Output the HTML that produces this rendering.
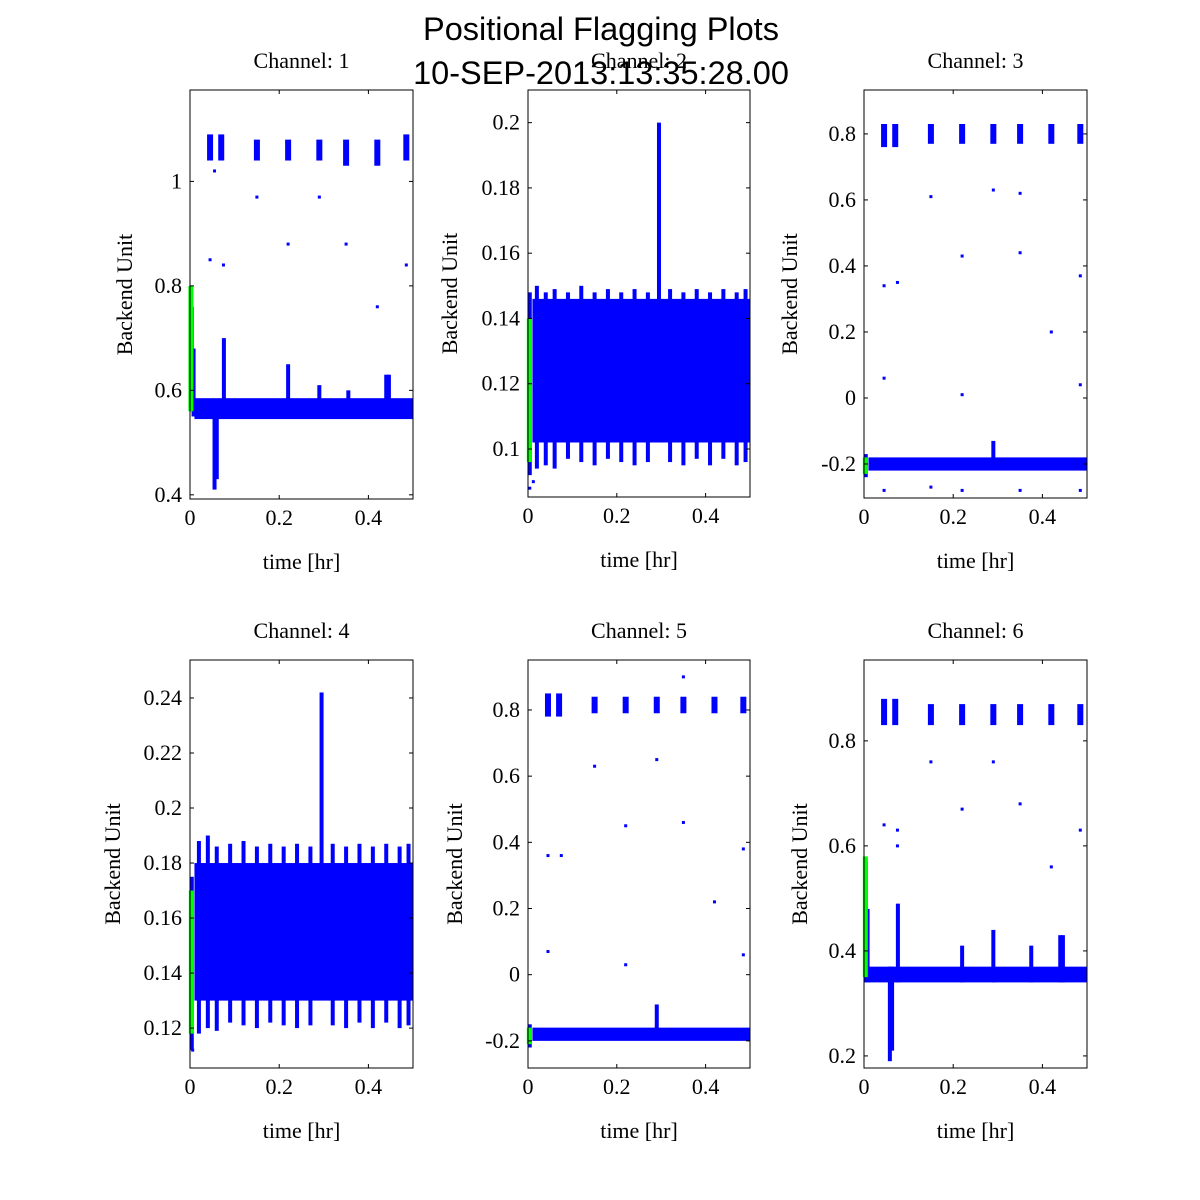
<!DOCTYPE html>
<html><head><meta charset="utf-8"><style>
html,body{margin:0;padding:0;background:#fff;}
svg{display:block;}
.tk{font-family:"Liberation Serif",serif;font-size:22px;fill:#000;}
.ttl{font-family:"Liberation Sans",sans-serif;font-size:32.5px;fill:#000;}
</style></head><body>
<svg id="chart" width="1200" height="1200" viewBox="0 0 1200 1200">
<text class="ttl" x="601" y="40" text-anchor="middle">Positional Flagging Plots</text>
<text class="ttl" x="601" y="84" text-anchor="middle">10-SEP-2013:13:35:28.00</text>
</svg>
<script>
// ---- data ----
const xTicks=[0,0.2,0.4];
const xTickLabels=["0","0.2","0.4"];
// Channel 1
const p1Band=[0.545,0.585];
const p1SpikeT=[0.004,0.008,0.055,0.06,0.076,0.22,0.29,0.355,0.44,0.446];
const p1SpikeLo=[0.56,0.55,0.41,0.43,0.55,0.55,0.55,0.55,0.55,0.55];
const p1SpikeHi=[0.76,0.68,0.58,0.58,0.70,0.65,0.61,0.60,0.63,0.63];
const p1ClusterT=[0.045,0.07,0.15,0.22,0.29,0.35,0.42,0.485];
const p1ClusterLo=[1.04,1.04,1.04,1.04,1.04,1.03,1.03,1.04];
const p1ClusterHi=[1.09,1.09,1.08,1.08,1.08,1.08,1.08,1.09];
const p1OutT=[0.045,0.075,0.15,0.22,0.29,0.35,0.42,0.485,0.055];
const p1OutV=[0.85,0.84,0.97,0.88,0.97,0.88,0.76,0.84,1.02];
const p1GreenT=[0.002];const p1GreenLo=[0.56];const p1GreenHi=[0.80];
const p1YTicks=[0.4,0.6,0.8,1];
// Channel 2
const p2Band=[0.102,0.146];
const p2SpikeT=[0.004,0.02,0.04,0.06,0.09,0.12,0.15,0.18,0.21,0.24,0.27,0.295,0.32,0.35,0.38,0.41,0.44,0.47,0.49];
const p2SpikeLo=[0.092,0.094,0.095,0.094,0.097,0.096,0.095,0.097,0.096,0.095,0.096,0.11,0.096,0.095,0.097,0.095,0.097,0.095,0.096];
const p2SpikeHi=[0.148,0.15,0.148,0.149,0.148,0.15,0.148,0.149,0.148,0.149,0.148,0.20,0.149,0.148,0.149,0.148,0.149,0.148,0.149];
const p2ClusterT=[];const p2ClusterLo=[];const p2ClusterHi=[];
const p2OutT=[0.004,0.012];const p2OutV=[0.088,0.09];
const p2GreenT=[0.003];const p2GreenLo=[0.096];const p2GreenHi=[0.14];
const p2YTicks=[0.1,0.12,0.14,0.16,0.18,0.2];
// Channel 3
const p3Band=[-0.22,-0.18];
const p3SpikeT=[0.004,0.29];
const p3SpikeLo=[-0.24,-0.2];
const p3SpikeHi=[-0.17,-0.13];
const p3ClusterT=[0.045,0.07,0.15,0.22,0.29,0.35,0.42,0.485];
const p3ClusterLo=[0.76,0.76,0.77,0.77,0.77,0.77,0.77,0.77];
const p3ClusterHi=[0.83,0.83,0.83,0.83,0.83,0.83,0.83,0.83];
const p3OutT=[0.045,0.045,0.075,0.15,0.22,0.22,0.29,0.35,0.35,0.42,0.485,0.485,0.045,0.15,0.22,0.35,0.485];
const p3OutV=[0.34,0.06,0.35,0.61,0.43,0.01,0.63,0.44,0.62,0.2,0.37,0.04,-0.28,-0.27,-0.28,-0.28,-0.28];
const p3GreenT=[0.003];const p3GreenLo=[-0.23];const p3GreenHi=[-0.18];
const p3YTicks=[-0.2,0,0.2,0.4,0.6,0.8];
// Channel 4
const p4Band=[0.13,0.18];
const p4SpikeT=[0.004,0.02,0.04,0.06,0.09,0.12,0.15,0.18,0.21,0.24,0.27,0.295,0.32,0.35,0.38,0.41,0.44,0.47,0.49];
const p4SpikeLo=[0.112,0.118,0.12,0.119,0.122,0.121,0.12,0.122,0.121,0.12,0.121,0.14,0.121,0.12,0.122,0.12,0.122,0.12,0.121];
const p4SpikeHi=[0.175,0.188,0.19,0.186,0.187,0.188,0.186,0.187,0.186,0.187,0.186,0.242,0.187,0.186,0.187,0.186,0.187,0.186,0.187];
const p4ClusterT=[];const p4ClusterLo=[];const p4ClusterHi=[];
const p4OutT=[0.006];const p4OutV=[0.112];
const p4GreenT=[0.003];const p4GreenLo=[0.118];const p4GreenHi=[0.17];
const p4YTicks=[0.12,0.14,0.16,0.18,0.2,0.22,0.24];
// Channel 5
const p5Band=[-0.2,-0.16];
const p5SpikeT=[0.004,0.29];
const p5SpikeLo=[-0.22,-0.18];
const p5SpikeHi=[-0.15,-0.09];
const p5ClusterT=[0.045,0.07,0.15,0.22,0.29,0.35,0.42,0.485];
const p5ClusterLo=[0.78,0.78,0.79,0.79,0.79,0.79,0.79,0.79];
const p5ClusterHi=[0.85,0.85,0.84,0.84,0.84,0.84,0.84,0.84];
const p5OutT=[0.045,0.045,0.075,0.15,0.22,0.22,0.29,0.35,0.35,0.42,0.485,0.485];
const p5OutV=[0.36,0.07,0.36,0.63,0.45,0.03,0.65,0.46,0.9,0.22,0.38,0.06];
const p5GreenT=[0.003];const p5GreenLo=[-0.21];const p5GreenHi=[-0.16];
const p5YTicks=[-0.2,0,0.2,0.4,0.6,0.8];
// Channel 6
const p6Band=[0.34,0.37];
const p6SpikeT=[0.004,0.008,0.058,0.063,0.076,0.22,0.29,0.375,0.44,0.446];
const p6SpikeLo=[0.34,0.34,0.19,0.21,0.34,0.34,0.34,0.34,0.34,0.34];
const p6SpikeHi=[0.57,0.48,0.37,0.37,0.49,0.41,0.44,0.41,0.43,0.43];
const p6ClusterT=[0.045,0.07,0.15,0.22,0.29,0.35,0.42,0.485];
const p6ClusterLo=[0.83,0.83,0.83,0.83,0.83,0.83,0.83,0.83];
const p6ClusterHi=[0.88,0.88,0.87,0.87,0.87,0.87,0.87,0.87];
const p6OutT=[0.045,0.075,0.15,0.22,0.29,0.35,0.42,0.485,0.075];
const p6OutV=[0.64,0.63,0.76,0.67,0.76,0.68,0.56,0.63,0.6];
const p6GreenT=[0.003];const p6GreenLo=[0.35];const p6GreenHi=[0.58];
const p6YTicks=[0.2,0.4,0.6,0.8];

const panels=[
 {n:1,x0:190,x1:413,y0:90,y1:499,ymin:0.392,ymax:1.175,lblX:125,band:p1Band,sT:p1SpikeT,sL:p1SpikeLo,sH:p1SpikeHi,cT:p1ClusterT,cL:p1ClusterLo,cH:p1ClusterHi,oT:p1OutT,oV:p1OutV,gT:p1GreenT,gL:p1GreenLo,gH:p1GreenHi,yt:p1YTicks},
 {n:2,x0:528,x1:750,y0:90,y1:497,ymin:0.0853,ymax:0.21,lblX:450,band:p2Band,sT:p2SpikeT,sL:p2SpikeLo,sH:p2SpikeHi,cT:p2ClusterT,cL:p2ClusterLo,cH:p2ClusterHi,oT:p2OutT,oV:p2OutV,gT:p2GreenT,gL:p2GreenLo,gH:p2GreenHi,yt:p2YTicks},
 {n:3,x0:864,x1:1087,y0:90,y1:498,ymin:-0.303,ymax:0.933,lblX:790,band:p3Band,sT:p3SpikeT,sL:p3SpikeLo,sH:p3SpikeHi,cT:p3ClusterT,cL:p3ClusterLo,cH:p3ClusterHi,oT:p3OutT,oV:p3OutV,gT:p3GreenT,gL:p3GreenLo,gH:p3GreenHi,yt:p3YTicks},
 {n:4,x0:190,x1:413,y0:660,y1:1068,ymin:0.1055,ymax:0.2538,lblX:113,band:p4Band,sT:p4SpikeT,sL:p4SpikeLo,sH:p4SpikeHi,cT:p4ClusterT,cL:p4ClusterLo,cH:p4ClusterHi,oT:p4OutT,oV:p4OutV,gT:p4GreenT,gL:p4GreenLo,gH:p4GreenHi,yt:p4YTicks},
 {n:5,x0:528,x1:750,y0:660,y1:1068,ymin:-0.282,ymax:0.951,lblX:455,band:p5Band,sT:p5SpikeT,sL:p5SpikeLo,sH:p5SpikeHi,cT:p5ClusterT,cL:p5ClusterLo,cH:p5ClusterHi,oT:p5OutT,oV:p5OutV,gT:p5GreenT,gL:p5GreenLo,gH:p5GreenHi,yt:p5YTicks},
 {n:6,x0:864,x1:1087,y0:660,y1:1068,ymin:0.177,ymax:0.954,lblX:800,band:p6Band,sT:p6SpikeT,sL:p6SpikeLo,sH:p6SpikeHi,cT:p6ClusterT,cL:p6ClusterLo,cH:p6ClusterHi,oT:p6OutT,oV:p6OutV,gT:p6GreenT,gL:p6GreenLo,gH:p6GreenHi,yt:p6YTicks}
];
const NS="http://www.w3.org/2000/svg";
const svg=document.getElementById('chart');
function mk(tag,attrs,parent,text){const e=document.createElementNS(NS,tag);for(const k in attrs)e.setAttribute(k,attrs[k]);if(text!==undefined)e.textContent=text;parent.appendChild(e);return e;}
function fmt(v){return (Math.round(v*1000)/1000).toString();}
panels.forEach(p=>{
 const g=mk('g',{},svg);
 
 
 const X=t=>p.x0+(t/0.5)*(p.x1-p.x0);
 const Y=v=>p.y1-(v-p.ymin)/(p.ymax-p.ymin)*(p.y1-p.y0);
 const blue="#0000ff";
 const band=mk('rect',{x:X(0.01),y:Y(p.band[1]),width:X(0.5)-X(0.01),height:Y(p.band[0])-Y(p.band[1]),fill:blue},g);
 
 
 p.sT.forEach((t,i)=>{
  const r=mk('rect',{x:X(t)-2,y:Y(p.sH[i]),width:4,height:Y(p.sL[i])-Y(p.sH[i]),fill:blue},g);
  
  
 });
 p.cT.forEach((t,i)=>{
  const r=mk('rect',{x:X(t)-3,y:Y(p.cH[i]),width:6,height:Y(p.cL[i])-Y(p.cH[i]),fill:blue},g);
  
  
 });
 p.oT.forEach((t,i)=>{
  const r=mk('rect',{x:X(t)-1.5,y:Y(p.oV[i])-1.5,width:3,height:3,fill:blue},g);
  
  
 });
 p.gT.forEach((t,i)=>{
  const r=mk('rect',{x:X(t)-2.5,y:Y(p.gH[i]),width:5,height:Y(p.gL[i])-Y(p.gH[i]),fill:"#00ff00"},g);
  
  
 });
 const fr=mk('rect',{x:p.x0,y:p.y0,width:p.x1-p.x0,height:p.y1-p.y0,fill:"none",stroke:"#000","stroke-width":1},g);
 
 
 xTicks.forEach((t,i)=>{
  mk('line',{x1:X(t),x2:X(t),y1:p.y1,y2:p.y1-4,stroke:"#000"},g);
  mk('line',{x1:X(t),x2:X(t),y1:p.y0,y2:p.y0+4,stroke:"#000"},g);
  const tx=mk('text',{class:"tk",x:X(t),y:p.y1+26,"text-anchor":"middle"},g,xTickLabels[i]);
  
  
 });
 p.yt.forEach(v=>{
  mk('line',{x1:p.x0,x2:p.x0+4,y1:Y(v),y2:Y(v),stroke:"#000"},g);
  mk('line',{x1:p.x1,x2:p.x1-4,y1:Y(v),y2:Y(v),stroke:"#000"},g);
  const tx=mk('text',{class:"tk",x:p.x0-8,y:Y(v)+7,"text-anchor":"end"},g,fmt(v));
  
  
 });
 const cx=(p.x0+p.x1)/2;
 const tt=mk('text',{class:"tk",x:cx,y:p.y0-22,"text-anchor":"middle"},g,'Channel: '+p.n);
 
 
 const xl=mk('text',{class:"tk",x:cx,y:p.y1+70,"text-anchor":"middle"},g,'time [hr]');
 
 
 const yc=(p.y0+p.y1)/2;
 const yl=mk('text',{class:"tk",x:p.lblX+7,y:yc,"text-anchor":"middle",transform:`rotate(-90 ${p.lblX+7} ${yc})`},g,'Backend Unit');
 
 
});
</script>
</body></html>
